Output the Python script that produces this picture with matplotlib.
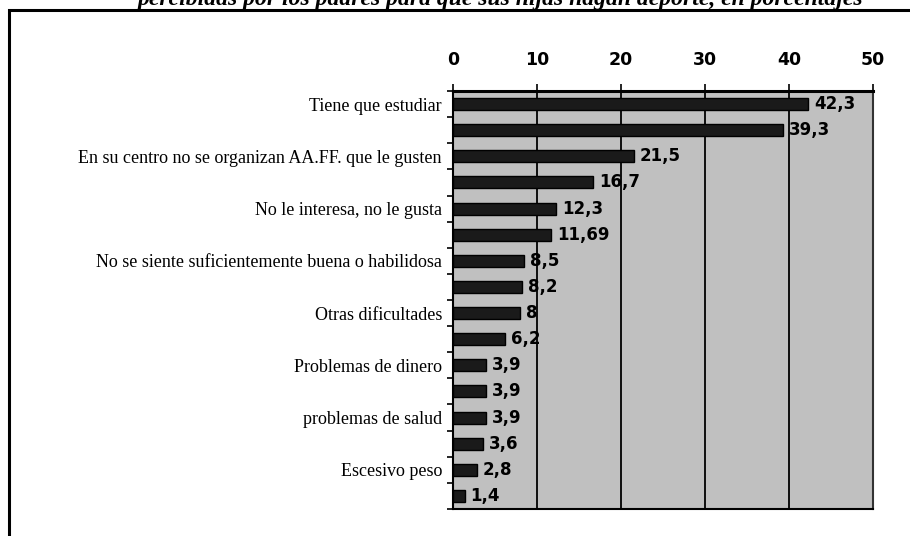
import matplotlib.pyplot as plt
import numpy as np

# datos (de arriba hacia abajo)
categorias = ['Tiene que estudiar', '',
              'En su centro no se organizan AA.FF. que le gusten', '',
              'No le interesa, no le gusta', '',
              'No se siente suficientemente buena o habilidosa', '',
              'Otras dificultades', '',
              'Problemas de dinero', '',
              'problemas de salud', '',
              'Escesivo peso', '']
valores = [42.3, 39.3, 21.5, 16.7, 12.3, 11.69, 8.5, 8.2, 8, 6.2, 3.9, 3.9, 3.9, 3.6, 2.8, 1.4]
etiquetas = ['42,3', '39,3', '21,5', '16,7', '12,3', '11,69', '8,5', '8,2', '8', '6,2',
             '3,9', '3,9', '3,9', '3,6', '2,8', '1,4']
titulo = 'percibidas por los padres para que sus hijas hagan deporte, en porcentajes'

fig = plt.figure(figsize=(9.1, 5.36), dpi=100)
ax = fig.add_axes([0.4978, 0.0504, 0.4615, 0.7798])

y = np.arange(len(valores))
ax.barh(y, valores, height=0.46, color='#1a1a1a', edgecolor='black', linewidth=1, zorder=3)
for yi, v, t in zip(y, valores, etiquetas):
    ax.text(v + 0.7, yi, t, va='center', ha='left', fontsize=12, fontweight='bold',
            family='DejaVu Sans', zorder=4)

ax.set_xlim(0, 50)
ax.set_ylim(len(valores) - 0.5, -0.5)
ax.set_facecolor('#c0c0c0')

# eje x arriba
ax.xaxis.tick_top()
ax.set_xticks([0, 10, 20, 30, 40, 50])
ax.tick_params(axis='x', direction='out', length=5, width=1.2, pad=11)
for lab in ax.get_xticklabels():
    lab.set_fontweight('bold')
    lab.set_fontsize(12.5)
    lab.set_family('DejaVu Sans')
ax.grid(axis='x', color='black', linewidth=1.3, zorder=1)

# eje y: etiquetas cada dos barras, marcas en los limites
ax.set_yticks(y)
ax.set_yticklabels(categorias, family='Liberation Serif', fontsize=13)
ax.tick_params(axis='y', which='major', length=0, pad=8)
ax.set_yticks(np.arange(len(valores) + 1) - 0.5, minor=True)
ax.tick_params(axis='y', which='minor', direction='out', length=4, width=1.2)

for s in ax.spines.values():
    s.set_color('black')
    s.set_linewidth(1.5)
ax.spines['top'].set_linewidth(2.2)
ax.spines['right'].set_color('#333333')

# marco exterior del grafico
fig.patches.append(plt.Rectangle((9 / 910, -0.05), 1.0, 1 - 10 / 536 + 0.05,
                                 transform=fig.transFigure, fill=False,
                                 edgecolor='black', linewidth=2.2))

# titulo (cortado arriba, como en el original)
fig.text(0.55, 1 - 5 / 536, titulo, ha='center', va='baseline', fontsize=17,
         fontweight='bold', style='italic', family='Liberation Serif')

fig.savefig('out.png', dpi=100)
